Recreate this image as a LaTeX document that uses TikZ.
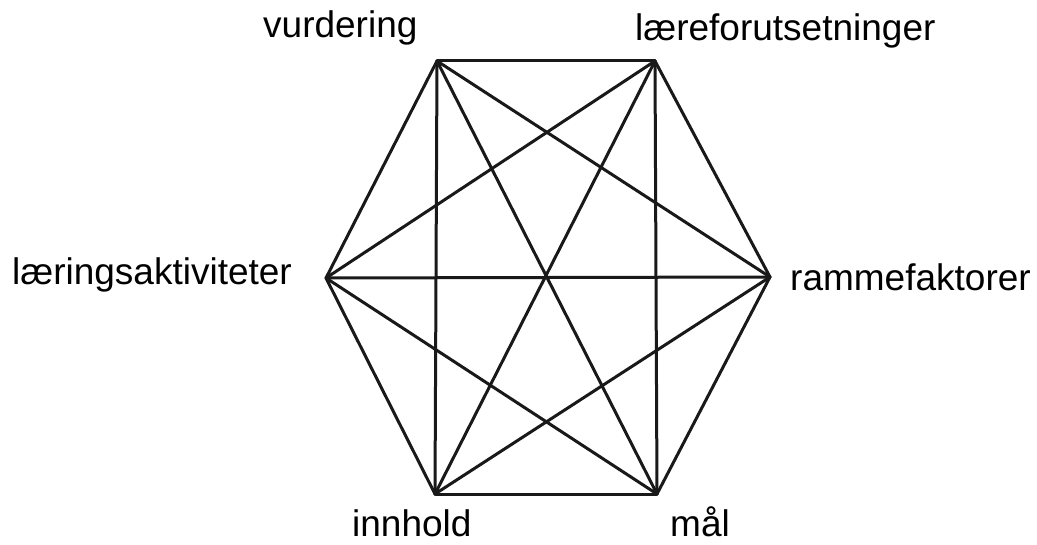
\documentclass[tikz,border=0pt]{standalone}
\usepackage{fontspec}
\setmainfont{Liberation Sans}
\begin{document}
\begin{tikzpicture}[x=1pt,y=-1pt,
  lbl/.style={inner sep=0pt,anchor=base west,font=\fontsize{37}{44}\selectfont},
  edge/.style={line width=3pt,line cap=round,line join=round,black!90}]
\useasboundingbox (0,0) rectangle (1037,545);
\coordinate (V) at (437,61);
\coordinate (L) at (655,61);
\coordinate (A) at (326,278);
\coordinate (R) at (770,277);
\coordinate (I) at (435,494);
\coordinate (M) at (657,494);
\node[lbl] (tV) at (263,38) {vurdering};
\node[lbl] (tL) at (635,41) {læreforutsetninger};
\node[lbl] (tA) at (12,285) {læringsaktiviteter};
\node[lbl] (tR) at (790,291) {rammefaktorer};
\node[lbl] (tI) at (352,536) {innhold};
\node[lbl] (tM) at (670,536) {mål};
\foreach \a/\b in {V/L,V/A,V/R,V/I,V/M,L/A,L/R,L/I,L/M,A/R,A/I,A/M,R/I,R/M,I/M}
  \draw[edge] (\a) -- (\b);
\end{tikzpicture}
\end{document}
